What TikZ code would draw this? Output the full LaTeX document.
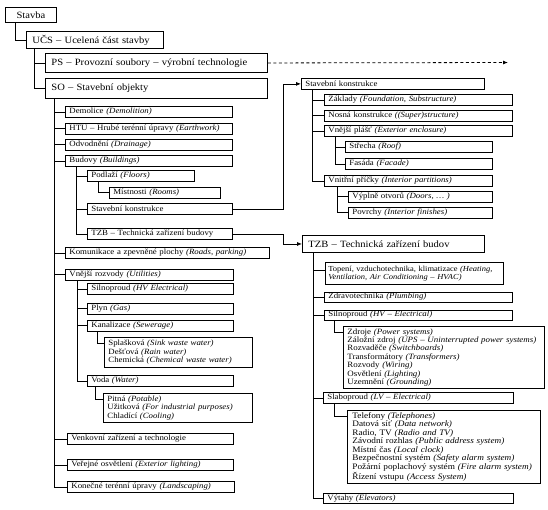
\documentclass[tikz,border=0pt]{standalone}
\usepackage{fontspec}
\setmainfont{Liberation Serif}[FakeStretch=1.1]
\usetikzlibrary{arrows.meta}
\hyphenpenalty=10000
\tikzset{
  big/.style={draw, line width=0.9pt, anchor=north west, inner xsep=6pt, inner ysep=1pt, align=left, font=\fontsize{9.6}{12}\selectfont},
  item/.style={draw, line width=0.8pt, anchor=north west, inner xsep=4pt, inner ysep=1pt, align=left, font=\fontsize{8}{8.4}\selectfont},
  link/.style={line width=0.8pt},
  tip/.style={-{Latex[length=5pt,width=4pt]}},
}
\begin{document}
\begin{tikzpicture}[x=1pt, y=-1pt]
  \useasboundingbox (0,0) rectangle (548,509);
  % top levels
  \node [big, align=center, text width=39pt, minimum height=15pt] (stavba) at (5,7) {Stavba};
  \node [big, text width=125pt, minimum height=17pt] (ucs) at (26,31) {UČS -- Ucelená část stavby};
  \node [big, text width=210pt, minimum height=19pt] (ps) at (45,53) {PS -- Provozní soubory -- výrobní technologie};
  \node [big, text width=210pt, minimum height=20pt] (so) at (45,78) {SO -- Stavební objekty};
  \coordinate (psend) at (508,62.5);

  % SO branch
  \node [item, text width=159pt, minimum height=11pt] (demolice) at (65,106) {Demolice \textit{(Demolition)}};
  \node [item, text width=159pt, minimum height=11pt] (htu) at (65,122.5) {HTU -- Hrubé terénní úpravy \textit{(Earthwork)}};
  \node [item, text width=159pt, minimum height=11pt] (odvod) at (65,138.5) {Odvodnění \textit{(Drainage)}};
  \node [item, text width=159pt, minimum height=11pt] (budovy) at (65,155) {Budovy \textit{(Buildings)}};
  \node [item, text width=99pt, minimum height=11pt] (podlazi) at (87,170) {Podlaží \textit{(Floors)}};
  \node [item, text width=103pt, minimum height=11pt] (mistnosti) at (109,186.5) {Místnosti \textit{(Rooms)}};
  \node [item, text width=137pt, minimum height=11pt] (stkL) at (87,203) {Stavební konstrukce};
  \node [item, text width=137pt, minimum height=11pt] (tzbL) at (87,228) {TZB -- Technická zařízení budovy};
  \node [item, text width=196pt, minimum height=11pt] (komunikace) at (65,247) {Komunikace a zpevněné plochy \textit{(Roads, parking)}};
  \node [item, text width=160pt, minimum height=11pt] (rozvody) at (65,268.5) {Vnější rozvody \textit{(Utilities)}};
  \node [item, text width=138pt, minimum height=11pt] (silnoL) at (87,283) {Silnoproud \textit{(HV Electrical)}};
  \node [item, text width=138pt, minimum height=11pt] (plyn) at (87,302.5) {Plyn \textit{(Gas)}};
  \node [item, text width=138pt, minimum height=11pt] (kanal) at (87,319.5) {Kanalizace \textit{(Sewerage)}};
  \node [item, text width=140pt, minimum height=30pt] (splas) at (104,337) {Splašková \textit{(Sink waste water)}\\Dešťová \textit{(Rain water)}\\Chemická \textit{(Chemical waste water)}};
  \node [item, text width=138pt, minimum height=11pt] (voda) at (87,375) {Voda \textit{(Water)}};
  \node [item, text width=141pt, minimum height=29pt] (pitna) at (103,393) {Pitná \textit{(Potable)}\\Užitková \textit{(For industrial purposes)}\\Chladící \textit{(Cooling)}};
  \node [item, text width=158pt, minimum height=11pt] (venkovni) at (67,433) {Venkovní zařízení a technologie};
  \node [item, text width=158pt, minimum height=11pt] (osvetleni) at (67,459) {Veřejné osvětlení \textit{(Exterior lighting)}};
  \node [item, text width=159pt, minimum height=11pt] (konecne) at (67,481) {Konečné terénní úpravy \textit{(Landscaping)}};

  % Stavebni konstrukce
  \node [item, text width=175pt, minimum height=11pt] (stkR) at (301,78) {Stavební konstrukce};
  \node [item, text width=180pt, minimum height=11pt] (zaklady) at (324,94) {Základy \textit{(Foundation, Substructure)}};
  \node [item, text width=180pt, minimum height=11pt] (nosna) at (324,109.5) {Nosná konstrukce \textit{((Super)structure)}};
  \node [item, text width=180pt, minimum height=11pt] (plast) at (324,125) {Vnější plášť \textit{(Exterior enclosure)}};
  \node [item, text width=139pt, minimum height=11pt] (strecha) at (345,141) {Střecha \textit{(Roof)}};
  \node [item, text width=139pt, minimum height=11pt] (fasada) at (345,158) {Fasáda \textit{(Facade)}};
  \node [item, text width=160pt, minimum height=11pt] (pricky) at (324,175) {Vnitřní příčky \textit{(Interior partitions)}};
  \node [item, text width=136pt, minimum height=11pt] (vyplne) at (348,190.5) {Výplně otvorů \textit{(Doors, \dots\ )}};
  \node [item, text width=136pt, minimum height=11pt] (povrchy) at (348,206.5) {Povrchy \textit{(Interior finishes)}};

  % TZB
  \node [big, text width=170pt, minimum height=17pt] (tzbR) at (302,235) {TZB -- Technická zařízení budov};
  \node [item, inner xsep=3pt, text width=172pt, minimum height=22pt, font=\fontsize{7.7}{8.4}\selectfont] (topeni) at (325,262) {Topení, vzduchotechnika, klimatizace \textit{(Heating,}\\\textit{Ventilation, Air Conditioning -- HVAC)}};
  \node [item, text width=180pt, minimum height=10pt] (zdravo) at (324,291.5) {Zdravotechnika \textit{(Plumbing)}};
  \node [item, text width=180pt, minimum height=10pt] (silnoR) at (324,309.5) {Silnoproud \textit{(HV -- Electrical)}};
  \node [item, text width=193pt, minimum height=62pt, font=\fontsize{8.1}{8.4}\selectfont] (zdroje) at (343,326) {Zdroje \textit{(Power systems)}\\Záložní zdroj \textit{(UPS -- Uninterrupted power systems)}\\Rozvaděče \textit{(Switchboards)}\\Transformátory \textit{(Transformers)}\\Rozvody \textit{(Wiring)}\\Osvětlení \textit{(Lighting)}\\Uzemnění \textit{(Grounding)}};
  \node [item, text width=182pt, minimum height=11pt] (slabo) at (323,392) {Slaboproud \textit{(LV -- Electrical)}};
  \node [item, inner xsep=5pt, text width=183pt, minimum height=73pt, font=\fontsize{8.4}{8.5}\selectfont] (telefony) at (347,410) {Telefony \textit{(Telephones)}\\Datová síť \textit{(Data network)}\\Radio, TV \textit{(Radio and TV)}\\Závodní rozhlas \textit{(Public address system)}\\Místní čas \textit{(Local clock)}\\Bezpečnostní systém \textit{(Safety alarm system)}\\Požární poplachový systém \textit{(Fire alarm system)}\\Řízení vstupu \textit{(Access System)}};
  \node [item, text width=182pt, minimum height=10pt] (vytahy) at (323,493) {Výtahy \textit{(Elevators)}};

  % connectors
  \draw [link] ([xshift=10pt]stavba.south west) |- (ucs.west);
  \foreach \n in {ps,so}
    \draw [link] ([xshift=8pt]ucs.south west) |- (\n.west);
  \foreach \n in {demolice,htu,odvod,budovy,komunikace,rozvody,venkovni,osvetleni,konecne}
    \draw [link] ([xshift=9pt]so.south west) |- (\n.west);
  \foreach \n in {podlazi,stkL,tzbL}
    \draw [link] ([xshift=11pt]budovy.south west) |- (\n.west);
  \draw [link] ([xshift=11pt]podlazi.south west) |- (mistnosti.west);
  \foreach \n in {silnoL,plyn,kanal,voda}
    \draw [link] ([xshift=12pt]rozvody.south west) |- (\n.west);
  \draw [link] ([xshift=10pt]kanal.south west) |- ([yshift=-6pt]splas.north west);
  \draw [link] ([xshift=8pt]voda.south west) |- ([yshift=-6pt]pitna.north west);
  \foreach \n in {zaklady,nosna,plast,pricky}
    \draw [link] ([xshift=11pt]stkR.south west) |- (\n.west);
  \foreach \n in {strecha,fasada}
    \draw [link] ([xshift=11pt]plast.south west) |- (\n.west);
  \foreach \n in {vyplne,povrchy}
    \draw [link] ([xshift=13pt]pricky.south west) |- (\n.west);
  \draw [link] ([xshift=11pt]tzbR.south west) |- ([yshift=-8pt]topeni.north west);
  \foreach \n in {zdravo,silnoR,slabo,vytahy}
    \draw [link] ([xshift=11pt]tzbR.south west) |- (\n.west);
  \draw [link] ([xshift=10pt]silnoR.south west) |- ([yshift=-6pt]zdroje.north west);
  \draw [link] ([xshift=11pt]slabo.south west) |- ([yshift=-6pt]telefony.north west);

  % links between the trees
  \draw [link, tip, dash pattern=on 3pt off 2.5pt] (ps.east) -- (psend);
  \draw [link, tip] (stkL.east) -- ++(51,0) |- (stkR.west);
  \draw [link, tip] (tzbL.east) -- ++(51,0) |- (tzbR.west);
\end{tikzpicture}
\end{document}
